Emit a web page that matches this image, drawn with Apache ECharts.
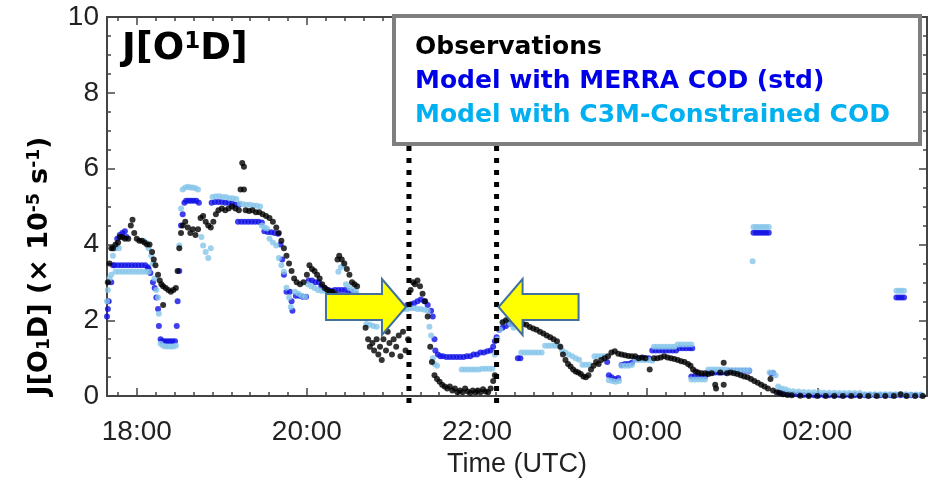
<!DOCTYPE html>
<html>
<head>
<meta charset="utf-8">
<script src="https://cdn.jsdelivr.net/npm/echarts@6/dist/echarts.min.js"></script>
<style>
html, body { margin: 0; padding: 0; background: #fff; }
#main { width: 933px; height: 483px; }
</style>
</head>
<body>
<div id="main"></div>
<script>
// time in hours since 00:00 of the first day (24.5 = 00:30 next day)
var xLabelHours = [18, 20, 22, 24, 26];
var yLabels = [0, 2, 4, 6, 8, 10];
var cutStart = 21.2;   // dotted lines
var cutEnd = 22.23;
var arrowLevel = 2.35;

var observations = [
  [17.66,3.0],[17.68,3.5],[17.70,3.9],[17.72,3.9],[17.75,4.0],[17.78,4.05],[17.80,4.2],[17.83,4.2],
  [17.86,4.15],[17.90,4.15],[17.93,4.5],[17.95,4.65],[17.97,4.3],[18.00,4.15],[18.03,4.1],[18.06,4.1],
  [18.09,4.05],[18.12,4.0],[18.15,4.0],[18.18,3.8],[18.20,3.6],[18.22,3.45],[18.25,3.2],[18.27,3.05],
  [18.29,2.95],[18.31,2.9],[18.31,2.4],[18.34,2.85],[18.37,2.8],[18.40,2.75],[18.43,2.8],[18.46,2.85],
  [18.48,3.3],[18.50,3.9],[18.52,4.3],[18.54,4.5],[18.57,4.6],[18.60,4.45],[18.63,4.3],[18.66,4.4],
  [18.69,4.25],[18.72,4.4],[18.75,4.7],[18.78,4.75],[18.81,4.6],[18.84,4.5],[18.87,4.45],[18.90,4.6],
  [18.93,4.8],[18.96,4.9],[19.00,4.95],[19.04,4.9],[19.08,4.95],[19.12,5.0],[19.16,4.95],[19.20,4.9],
  [19.22,5.45],[19.24,6.15],[19.26,6.05],[19.26,5.45],[19.28,4.9],[19.32,4.88],[19.36,4.9],[19.40,4.85],
  [19.44,4.85],[19.48,4.8],[19.52,4.75],[19.56,4.7],[19.60,4.6],[19.64,4.45],[19.67,4.3],[19.70,4.1],
  [19.73,3.9],[19.76,3.7],[19.79,3.5],[19.82,3.3],[19.85,3.1],[19.88,3.0],[19.92,2.95],[19.96,3.0],
  [20.00,3.2],[20.03,3.45],[20.06,3.35],[20.09,3.3],[20.12,3.2],[20.15,3.1],[20.18,2.95],[20.21,2.85],
  [20.24,2.8],[20.27,2.75],[20.30,2.75],[20.33,2.7],[20.36,3.6],[20.38,3.7],[20.41,3.6],[20.44,3.5],
  [20.47,3.35],[20.50,3.2],[20.53,3.0],[20.56,2.95],[20.59,2.9],[20.62,2.6],[20.66,2.1],[20.69,1.8],
  [20.72,1.5],[20.74,1.3],[20.77,1.4],[20.79,1.2],[20.82,1.5],[20.84,1.1],[20.86,1.3],[20.88,0.95],
  [20.90,1.5],[20.93,1.2],[20.95,1.7],[20.97,1.4],[21.00,1.1],[21.02,1.5],[21.05,1.3],[21.08,1.6],
  [21.10,1.05],[21.13,1.7],[21.16,1.2],[21.19,1.5],[21.22,2.8],[21.25,3.0],[21.27,2.95],[21.30,3.05],
  [21.33,2.9],[21.36,2.7],[21.39,2.5],[21.42,2.1],[21.45,1.3],[21.47,0.9],[21.50,0.55],[21.53,0.45],
  [21.56,0.38],[21.59,0.3],[21.62,0.25],[21.65,0.2],[21.68,0.25],[21.71,0.15],[21.74,0.2],[21.77,0.1],
  [21.80,0.15],[21.83,0.1],[21.86,0.2],[21.89,0.12],[21.92,0.08],[21.95,0.15],[21.98,0.1],[22.01,0.15],
  [22.04,0.1],[22.07,0.18],[22.10,0.12],[22.13,0.1],[22.16,0.2],[22.19,0.4],[22.21,0.55],[22.30,1.95],
  [22.34,2.0],[22.38,2.05],[22.42,2.0],[22.46,1.98],[22.50,1.95],[22.54,1.9],[22.58,1.88],[22.62,1.82],
  [22.66,1.78],[22.70,1.75],[22.74,1.7],[22.78,1.65],[22.82,1.6],[22.86,1.55],[22.90,1.5],[22.94,1.45],
  [22.98,1.3],[23.01,1.1],[23.04,0.95],[23.07,0.85],[23.10,0.78],[23.13,0.7],[23.16,0.65],[23.19,0.62],
  [23.22,0.58],[23.25,0.52],[23.28,0.5],[23.31,0.55],[23.34,0.7],[23.37,0.8],[23.40,0.9],[23.43,0.85],
  [23.46,0.95],[23.50,1.0],[23.54,1.05],[23.58,1.15],[23.62,1.18],[23.66,1.12],[23.70,1.1],[23.74,1.08],
  [23.78,1.06],[23.82,1.05],[23.86,1.05],[23.90,1.0],[23.94,1.02],[23.98,1.0],[24.03,0.7],[24.08,1.0],
  [24.12,1.0],[24.16,1.02],[24.20,1.05],[24.24,1.02],[24.28,1.0],[24.32,0.98],[24.36,0.95],[24.40,0.92],
  [24.44,0.9],[24.48,0.85],[24.51,0.8],[24.54,0.7],[24.57,0.65],[24.60,0.62],[24.64,0.6],[24.68,0.6],
  [24.72,0.58],[24.76,0.6],[24.80,0.3],[24.81,0.2],[24.86,0.62],[24.90,0.3],[24.90,0.88],[24.94,0.6],
  [24.98,0.62],[25.02,0.6],[25.06,0.58],[25.10,0.55],[25.14,0.52],[25.18,0.5],[25.22,0.45],[25.26,0.4],
  [25.30,0.35],[25.34,0.3],[25.38,0.25],[25.42,0.2],[25.45,0.45],[25.48,0.15],[25.52,0.1],[25.56,0.08],
  [25.60,0.05],[25.65,0.03],[25.70,0.02],[25.80,0.01],[25.90,0.0],[26.00,0.0],[26.10,0.0],[26.20,0.0],
  [26.30,0.0],[26.40,0.0],[26.50,0.0],[26.60,0.0],[26.70,0.0],[26.80,0.0],[26.90,0.0],[26.98,0.05],
  [27.05,0.0],[27.15,0.0],[27.24,0.0]
];

var modelMerra = [
  [17.65,2.1],[17.66,2.3],[17.67,2.5],[17.70,3.0],[17.72,3.45],[17.74,3.9],[17.77,4.15],[17.80,4.25],
  [17.83,4.3],[17.86,4.35],[17.88,4.2],[17.74,3.45],[17.78,3.45],[17.82,3.45],[17.86,3.45],[17.90,3.45],
  [17.94,3.45],[17.98,3.45],[18.02,3.45],[18.06,3.45],[18.10,3.45],[18.13,3.4],[18.14,3.35],[18.16,3.25],
  [18.19,3.0],[18.21,2.85],[18.23,2.6],[18.25,2.3],[18.26,1.85],[18.28,1.5],[18.30,1.45],[18.33,1.45],
  [18.36,1.45],[18.39,1.45],[18.42,1.45],[18.45,1.45],[18.47,1.85],[18.48,2.5],[18.50,3.3],[18.52,4.5],
  [18.54,4.8],[18.56,5.1],[18.58,5.15],[18.61,5.15],[18.64,5.15],[18.67,5.15],[18.70,5.15],[18.73,5.1],
  [18.88,5.1],[18.92,5.12],[18.96,5.12],[19.00,5.12],[19.04,5.1],[19.08,5.1],[19.12,5.08],[19.16,5.05],
  [19.20,5.05],[19.19,4.6],[19.23,4.6],[19.27,4.6],[19.31,4.6],[19.35,4.6],[19.39,4.6],[19.43,4.6],
  [19.47,4.58],[19.50,4.35],[19.54,4.33],[19.58,4.32],[19.62,4.3],[19.66,4.28],[19.69,4.0],[19.71,3.6],
  [19.73,3.2],[19.76,2.75],[19.80,2.75],[19.82,2.5],[19.83,2.25],[19.87,2.65],[19.91,2.65],[19.95,2.62],
  [19.99,2.62],[20.02,3.05],[20.06,3.05],[20.10,3.0],[20.14,3.0],[20.17,2.9],[20.21,2.85],[20.25,2.8],
  [20.29,2.78],[20.33,2.8],[20.37,2.8],[20.41,2.8],[20.45,2.8],[20.49,2.78],[20.53,2.75],[20.57,2.7],
  [20.60,2.4],[20.64,2.3],[20.68,2.2],[20.72,2.15],[20.76,2.1],[20.80,2.1],[21.18,2.4],[21.22,2.42],
  [21.26,2.45],[21.30,2.5],[21.34,2.55],[21.38,2.5],[21.42,2.4],[21.46,2.25],[21.48,2.1],[21.50,1.5],
  [21.51,1.2],[21.54,1.1],[21.57,1.05],[21.60,1.05],[21.64,1.03],[21.68,1.03],[21.72,1.03],[21.76,1.03],
  [21.80,1.03],[21.84,1.03],[21.88,1.05],[21.92,1.05],[21.96,1.1],[22.00,1.1],[22.04,1.15],[22.08,1.15],
  [22.12,1.18],[22.16,1.2],[22.19,1.3],[22.21,1.45],[22.23,1.55],[22.26,1.75],[22.30,1.8],[22.34,1.85],
  [22.38,1.9],[22.42,1.9],[22.48,1.0],[22.51,1.0],[23.53,0.9],[23.55,0.55],[23.58,0.5],[23.62,0.45],
  [23.66,0.48],[23.70,0.82],[23.74,0.85],[23.78,0.85],[23.82,0.88],[23.86,0.98],[23.90,1.0],[23.94,1.0],
  [23.98,1.0],[24.02,1.0],[24.06,1.2],[24.10,1.2],[24.14,1.2],[24.18,1.2],[24.22,1.2],[24.26,1.2],
  [24.30,1.2],[24.34,1.2],[24.38,1.26],[24.42,1.26],[24.46,1.26],[24.50,1.26],[24.53,1.26],[24.52,0.52],
  [24.56,0.52],[24.60,0.52],[24.64,0.52],[24.68,0.52],[24.72,0.62],[24.76,0.62],[24.80,0.62],[24.84,0.62],
  [24.88,0.62],[24.92,0.62],[24.96,0.67],[25.00,0.67],[25.04,0.67],[25.08,0.67],[25.12,0.67],[25.16,0.67],
  [25.20,0.67],[25.25,4.31],[25.28,4.31],[25.31,4.31],[25.34,4.31],[25.37,4.31],[25.40,4.31],[25.43,4.31],
  [25.46,0.6],[25.48,0.6],[25.55,0.1],[25.60,0.08],[25.66,0.06],[25.72,0.05],[25.78,0.04],[25.84,0.03],
  [25.90,0.03],[25.96,0.02],[26.02,0.02],[26.08,0.02],[26.14,0.02],[26.20,0.02],[26.26,0.02],[26.32,0.02],
  [26.38,0.02],[26.44,0.02],[26.50,0.02],[26.56,0.02],[26.62,0.02],[26.68,0.02],[26.74,0.02],[26.80,0.02],
  [26.86,0.02],[26.93,2.6],[26.96,2.6],[26.99,2.6],[27.02,2.6],[26.92,0.02],[26.98,0.02],[27.04,0.02],
  [27.10,0.02],[27.16,0.02],[27.22,0.02]
];

var modelC3M = [
  [17.65,2.5],[17.66,2.8],[17.68,3.1],[17.70,3.2],[17.72,3.7],[17.74,3.9],[17.77,3.95],[17.79,3.9],
  [17.75,3.28],[17.79,3.28],[17.83,3.28],[17.87,3.28],[17.91,3.28],[17.95,3.28],[17.99,3.28],[18.03,3.28],
  [18.07,3.28],[18.11,3.28],[18.14,3.28],[18.08,4.1],[18.11,4.05],[18.14,3.9],[18.17,3.7],[18.19,3.5],
  [18.21,3.1],[18.23,2.8],[18.25,2.6],[18.26,2.17],[18.28,1.38],[18.31,1.33],[18.34,1.31],[18.37,1.31],
  [18.40,1.31],[18.43,1.31],[18.46,1.33],[18.50,3.97],[18.52,4.95],[18.54,5.45],[18.57,5.5],[18.60,5.52],
  [18.63,5.5],[18.66,5.5],[18.69,5.48],[18.72,5.45],[18.76,4.2],[18.78,3.97],[18.81,3.8],[18.84,3.64],
  [18.87,3.9],[18.89,5.25],[18.93,5.27],[18.97,5.27],[19.01,5.25],[19.05,5.25],[19.09,5.22],[19.13,5.22],
  [19.17,5.2],[19.21,5.08],[19.25,5.06],[19.29,5.05],[19.33,5.05],[19.37,5.03],[19.41,5.02],[19.45,5.0],
  [19.47,4.5],[19.50,4.45],[19.53,4.42],[19.56,4.15],[19.60,4.05],[19.64,3.97],[19.67,3.64],[19.70,3.45],
  [19.73,3.28],[19.76,2.86],[19.79,2.6],[19.81,2.35],[19.86,2.75],[19.90,2.7],[19.94,2.65],[19.98,2.62],
  [20.01,2.95],[20.05,2.9],[20.09,2.85],[20.13,2.8],[20.17,2.78],[20.21,2.78],[20.25,2.75],[20.29,2.72],
  [20.33,2.7],[20.37,3.28],[20.40,3.4],[20.43,3.45],[20.46,2.95],[20.50,2.85],[20.54,2.8],[20.58,2.75],
  [20.70,1.9],[20.74,1.88],[20.78,1.85],[20.82,1.83],[21.10,2.3],[21.14,2.3],[21.18,2.3],[21.22,2.32],
  [21.26,2.32],[21.30,2.3],[21.34,2.3],[21.38,2.28],[21.42,2.25],[21.44,1.83],[21.46,1.6],[21.48,1.0],
  [21.50,0.85],[21.53,0.8],[21.82,0.7],[21.86,0.7],[21.90,0.7],[21.94,0.7],[21.98,0.7],[22.02,0.7],
  [22.06,0.72],[22.10,0.72],[22.14,0.72],[22.18,0.72],[22.21,1.1],[22.24,1.5],[22.27,1.75],[22.31,1.95],
  [22.35,2.0],[22.39,1.9],[22.43,1.8],[22.52,1.15],[22.56,1.15],[22.60,1.15],[22.64,1.15],[22.68,1.15],
  [22.72,1.15],[22.76,1.15],[22.80,1.33],[22.84,1.33],[22.88,1.33],[22.92,1.33],[22.96,1.33],[23.00,1.2],
  [23.04,1.15],[23.08,1.1],[23.12,1.05],[23.16,1.0],[23.20,0.96],[23.24,0.83],[23.28,0.83],[23.32,0.83],
  [23.38,1.05],[23.42,1.05],[23.46,1.05],[23.50,1.05],[23.55,0.42],[23.59,0.4],[23.63,0.38],[23.67,0.4],
  [23.70,0.8],[23.74,0.8],[23.78,0.8],[23.82,0.82],[23.86,0.95],[23.90,0.95],[23.94,0.95],[23.98,0.95],
  [24.02,0.95],[24.06,0.93],[24.08,1.3],[24.12,1.3],[24.16,1.3],[24.20,1.3],[24.24,1.3],[24.28,1.3],
  [24.32,1.3],[24.36,1.36],[24.40,1.36],[24.44,1.36],[24.48,1.36],[24.52,1.36],[24.52,0.44],[24.56,0.44],
  [24.60,0.44],[24.64,0.44],[24.68,0.44],[24.72,0.7],[24.76,0.7],[24.80,0.7],[24.84,0.7],[24.88,0.7],
  [24.92,0.7],[24.96,0.68],[25.00,0.68],[25.04,0.68],[25.08,0.68],[25.12,0.68],[25.16,0.68],[25.20,0.68],
  [25.24,3.56],[25.25,4.46],[25.28,4.46],[25.31,4.46],[25.34,4.46],[25.37,4.46],[25.40,4.46],[25.43,4.46],
  [25.44,0.62],[25.48,0.62],[25.51,0.55],[25.54,0.25],[25.58,0.2],[25.62,0.18],[25.66,0.15],[25.72,0.13],
  [25.78,0.12],[25.84,0.11],[25.90,0.1],[25.96,0.1],[26.02,0.1],[26.08,0.09],[26.14,0.09],[26.20,0.09],
  [26.26,0.08],[26.32,0.08],[26.38,0.08],[26.44,0.08],[26.50,0.08],[26.56,0.05],[26.62,0.05],[26.68,0.05],
  [26.74,0.05],[26.80,0.05],[26.86,0.05],[26.92,0.05],[26.98,0.05],[27.04,0.05],[27.10,0.04],[27.16,0.04],
  [27.22,0.04],[26.93,2.78],[26.96,2.78],[26.99,2.78],[27.02,2.78]
];

var legendNames = ['Observations', 'Model with MERRA COD (std)', 'Model with C3M-Constrained COD'];
var seriesColors = ['#000000', '#1010E6', '#86C5EA'];
var legendColors = ['#000000', '#0000E8', '#00B0F0'];

var xMin = 17.65, xMax = 27.29;
var minorStep = 2 / 9;
var minorTicks = [];
for (var k = -1; k <= 42; k++) {
  var v = 18 + k * minorStep;
  if (v > xMin && v < xMax) minorTicks.push(v);
}

function hourLabel(v) {
  var h = Math.round(v) % 24;
  return (h < 10 ? '0' : '') + h + ':00';
}

var labelFont = { fontFamily: 'Liberation Sans', fontSize: 28, color: '#222' };
var lineStyle = { color: '#444', width: 2 };

var myChart = echarts.init(document.getElementById('main'));

function xAxisDef(pos, major, showLabel, showLine) {
  return {
    type: 'value', position: pos, min: xMin, max: xMax,
    axisLine: { show: showLine, lineStyle: lineStyle },
    axisTick: {
      show: true, inside: true, length: major ? 8 : 4,
      customValues: major ? xLabelHours : minorTicks,
      lineStyle: { color: '#444', width: 1.5 }
    },
    axisLabel: {
      show: showLabel, customValues: xLabelHours, margin: 22,
      formatter: hourLabel,
      fontFamily: labelFont.fontFamily, fontSize: labelFont.fontSize, color: labelFont.color
    },
    splitLine: { show: false },
    name: showLabel ? 'Time (UTC)' : '',
    nameLocation: 'middle', nameGap: 48,
    nameTextStyle: { fontFamily: labelFont.fontFamily, fontSize: 27, color: '#222' }
  };
}

function yAxisDef(pos, showLabel) {
  return {
    type: 'value', position: pos, min: 0, max: 10, interval: 2,
    axisLine: { show: true, lineStyle: lineStyle },
    axisTick: { show: true, inside: true, length: 8, lineStyle: { color: '#444', width: 1.5 } },
    minorTick: { show: true, splitNumber: 4, length: 4, lineStyle: { color: '#444', width: 1.5 } },
    axisLabel: {
      show: showLabel, margin: 8,
      formatter: function (v) { return yLabels.indexOf(v) >= 0 ? String(v) : ''; },
      fontFamily: labelFont.fontFamily, fontSize: labelFont.fontSize, color: labelFont.color
    },
    splitLine: { show: false }
  };
}

var option = {
  backgroundColor: '#ffffff',
  animation: false,
  grid: { left: 107, right: 6, top: 17, bottom: 79, containLabel: false },
  xAxis: [
    xAxisDef('bottom', true, true, true),
    xAxisDef('bottom', false, false, false),
    xAxisDef('top', true, false, true),
    xAxisDef('top', false, false, false)
  ],
  yAxis: [yAxisDef('left', true), yAxisDef('right', false)],
  series: [
    {
      name: legendNames[0], type: 'scatter', data: observations,
      symbol: 'circle', symbolSize: 6,
      itemStyle: { color: seriesColors[0] }, z: 3
    },
    {
      name: legendNames[1], type: 'scatter', data: modelMerra,
      symbol: 'circle', symbolSize: 6,
      itemStyle: { color: seriesColors[1] }, z: 2
    },
    {
      name: legendNames[2], type: 'scatter', data: modelC3M,
      symbol: 'circle', symbolSize: 6,
      itemStyle: { color: seriesColors[2] }, z: 2
    }
  ]
};
myChart.setOption(option);

// annotations placed from data coordinates
function px(t, v) {
  return myChart.convertToPixel({ xAxisIndex: 0, yAxisIndex: 0 }, [t, v]);
}

function arrow(tip, dir) {
  // dir = 1 points right, -1 points left
  var L = 80, H = 24, hh = 28, bh = 13;
  var x = tip[0], y = tip[1];
  return [
    [x - dir * L, y - bh], [x - dir * H, y - bh], [x - dir * H, y - hh],
    [x, y], [x - dir * H, y + hh], [x - dir * H, y + bh], [x - dir * L, y + bh]
  ];
}

var graphics = [];
[cutStart, cutEnd].forEach(function (t) {
  var top = px(t, 6.6), bot = px(t, -0.2);
  graphics.push({
    type: 'line', z: 50,
    shape: { x1: top[0], y1: top[1], x2: bot[0], y2: bot[1] },
    style: { stroke: '#000', lineWidth: 5, lineDash: [5, 7] }
  });
});
var tipL = px(cutStart, arrowLevel); tipL[0] -= 3;
var tipR = px(cutEnd, arrowLevel); tipR[0] += 2;
graphics.push({
  type: 'polygon', z: 60, shape: { points: arrow(tipL, 1) },
  style: { fill: '#FFFF00', stroke: '#41719C', lineWidth: 2 }
});
graphics.push({
  type: 'polygon', z: 60, shape: { points: arrow(tipR, -1) },
  style: { fill: '#FFFF00', stroke: '#41719C', lineWidth: 2 }
});

// legend box
graphics.push({
  type: 'rect', z: 70,
  shape: { x: 394, y: 16, width: 526, height: 128 },
  style: { fill: '#fff', stroke: '#7f7f7f', lineWidth: 4 }
});
legendNames.forEach(function (name, i) {
  graphics.push({
    type: 'text', z: 71, x: 415, y: 47 + i * 34,
    style: {
      text: name, fill: legendColors[i],
      font: 'bold 25px "DejaVu Sans"', align: 'left', verticalAlign: 'middle'
    }
  });
});

// panel label
graphics.push({
  type: 'text', z: 71, x: 122, y: 49,
  style: {
    text: '{a|J[O}{s|1}{a|D]}', align: 'left', verticalAlign: 'middle',
    rich: {
      a: { fontFamily: 'DejaVu Sans', fontWeight: 'bold', fontSize: 37, fill: '#000', color: '#000' },
      s: { fontFamily: 'DejaVu Sans', fontWeight: 'bold', fontSize: 23, fill: '#000', color: '#000', verticalAlign: 'top' }
    }
  }
});

// y axis title
graphics.push({
  type: 'text', z: 71, x: 40, y: 266, rotation: Math.PI / 2,
  style: {
    text: '{a|J[O}{d|1}{a|D] (× 10}{u|-5}{a| s}{u|-1}{a|)}',
    align: 'center', verticalAlign: 'middle',
    rich: {
      a: { fontFamily: 'DejaVu Sans', fontWeight: 'bold', fontSize: 27, color: '#000' },
      u: { fontFamily: 'DejaVu Sans', fontWeight: 'bold', fontSize: 17, color: '#000', verticalAlign: 'top' },
      d: { fontFamily: 'DejaVu Sans', fontWeight: 'bold', fontSize: 17, color: '#000', verticalAlign: 'bottom' }
    }
  }
});

myChart.setOption({ graphic: graphics });

window.addEventListener('resize', function () {
  myChart.resize();
});
</script>
</body>
</html>
